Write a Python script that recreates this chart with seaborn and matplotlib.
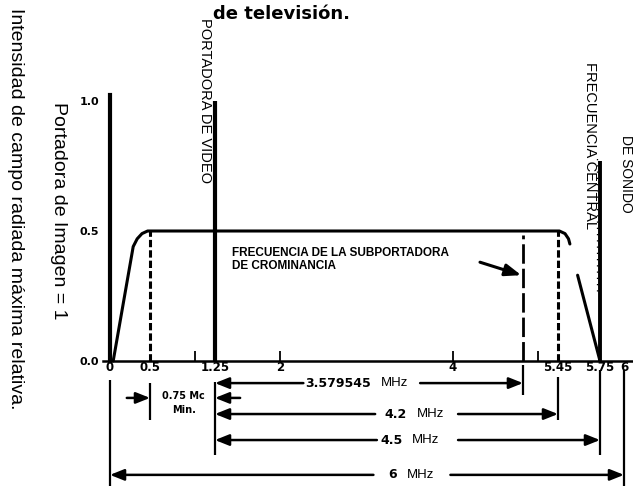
import numpy as np
import pandas as pd
import matplotlib
matplotlib.use("Agg")
import matplotlib.pyplot as plt
from matplotlib.ticker import FixedLocator, FixedFormatter
import seaborn as sns

# ---- channel data (MHz above the lower channel edge, relative field strength) ----
VIDEO_CARRIER = 1.25
CHROMA_OFFSET = 3.579545
CHROMA_CARRIER = VIDEO_CARRIER + CHROMA_OFFSET
VESTIGIAL_EDGE = 0.5
UPPER_EDGE = 5.45
SOUND_CARRIER = 5.75
CHANNEL_WIDTH = 6.0

VIDEO_LEVEL = 1.0
SOUND_LEVEL = 0.77
EDGE_LEVEL = 0.5
CHROMA_LEVEL = 0.485

# picture sideband envelope
SPECTRUM_MHZ = [0.04, 0.29, 0.34, 0.40, 0.47, 5.46, 5.50, 5.525, 5.535]
SPECTRUM_AMP = [0.0, 0.44, 0.47, 0.49, 0.50, 0.50, 0.49, 0.47, 0.45]
# lower skirt next to the sound carrier
SKIRT_MHZ = [5.59, 5.75]
SKIRT_AMP = [0.33, 0.0]

X_TICKS = [0, 0.5, 1.25, 2, 4, 5.45, 5.75, 6]
X_TICK_LABELS = ["0", "0.5", "1.25", "2", "4", "5.45", "5.75", "6"]
X_MINOR = [1, 2, 4, 5]
Y_TICKS = [0.0, 0.5, 1.0]
Y_TICK_LABELS = ["0.0", "0.5", "1.0"]

# dimension rows: start, span, row height, left line end, number left edge, right line start
DIM_ROWS = [
    (VIDEO_CARRIER, CHROMA_OFFSET, -0.085, 2.27, 2.29, 3.62),
    (VIDEO_CARRIER, UPPER_EDGE - VIDEO_CARRIER, -0.204, 3.10, 3.21, 4.06),
    (VIDEO_CARRIER, SOUND_CARRIER - VIDEO_CARRIER, -0.304, 3.12, 3.16, 4.06),
    (0.0, CHANNEL_WIDTH, -0.438, 3.08, 3.25, 3.97),
]

# ---- schematic (not to scale) frequency axis ----
AXIS_MHZ = np.array([0, 0.5, 1, 1.25, 2, 4, 4.83, 5, 5.45, 5.75, 6])
AXIS_POS = np.array([110, 150, 195, 215, 280, 453, 523, 538, 558, 600, 624], float)


def _piecewise(v, xp, fp):
    v = np.asarray(v, float)
    out = np.interp(v, xp, fp)
    s0 = (fp[1] - fp[0]) / (xp[1] - xp[0])
    s1 = (fp[-1] - fp[-2]) / (xp[-1] - xp[-2])
    out = np.where(v < xp[0], fp[0] + (v - xp[0]) * s0, out)
    out = np.where(v > xp[-1], fp[-1] + (v - xp[-1]) * s1, out)
    return out


def fwd(v):
    return _piecewise(v, AXIS_MHZ, AXIS_POS)


def inv(p):
    return _piecewise(p, AXIS_POS, AXIS_MHZ)


sns.set_theme(style="white")
plt.rcParams["font.family"] = ["Liberation Sans", "DejaVu Sans"]
plt.rcParams["text.color"] = "black"
plt.rcParams["axes.labelcolor"] = "black"
plt.rcParams["xtick.color"] = "black"
plt.rcParams["ytick.color"] = "black"

W, H = 633, 486
fig = plt.figure(figsize=(W / 100, H / 100), dpi=100)
ax = fig.add_axes([0, 0, 1, 1])
ax.set_xscale("function", functions=(fwd, inv))
ax.set_xlim(float(inv(0.0)), float(inv(W)))
ax.set_ylim(-0.4808, 1.3885)
ax.patch.set_alpha(0)

# envelope
df = pd.DataFrame({
    "mhz": SPECTRUM_MHZ + SKIRT_MHZ,
    "amp": SPECTRUM_AMP + SKIRT_AMP,
    "trace": ["picture"] * len(SPECTRUM_MHZ) + ["skirt"] * len(SKIRT_MHZ),
})
sns.lineplot(data=df, x="mhz", y="amp", units="trace", estimator=None,
             color="black", lw=2.2, sort=False, ax=ax)
ax.set_xlabel("")
ax.set_ylabel("")

# carriers
ax.vlines(VIDEO_CARRIER, 0, VIDEO_LEVEL, color="black", lw=3.0)
ax.vlines(SOUND_CARRIER, 0, SOUND_LEVEL, color="black", lw=2.8)
ax.vlines(SOUND_CARRIER - 0.02, 0.27, 0.79, color="black", lw=0.9,
          linestyles=(0, (1, 4)))
ax.vlines([VESTIGIAL_EDGE, UPPER_EDGE], 0, EDGE_LEVEL, color="black", lw=2.2,
          linestyles=(0, (2.4, 1.0)))
ax.vlines(CHROMA_CARRIER, 0, CHROMA_LEVEL, color="black", lw=2.0,
          linestyles=(0, (7, 1.8)))

# axes lines and ticks
for side in ("top", "right"):
    ax.spines[side].set_visible(False)
ax.spines["left"].set_position(("data", 0))
ax.spines["left"].set_bounds(0, 1.023)
ax.spines["left"].set_linewidth(3.0)
ax.spines["left"].set_color("black")
ax.spines["bottom"].set_position(("data", 0))
ax.spines["bottom"].set_bounds(-0.09, float(inv(W)))
ax.spines["bottom"].set_linewidth(1.8)
ax.spines["bottom"].set_color("black")

ax.xaxis.remove_overlapping_locs = False
ax.xaxis.set_major_locator(FixedLocator(X_TICKS))
ax.xaxis.set_major_formatter(FixedFormatter(X_TICK_LABELS))
ax.xaxis.set_minor_locator(FixedLocator(X_MINOR))
ax.xaxis.set_minor_formatter(FixedFormatter([""] * len(X_MINOR)))
ax.yaxis.set_major_locator(FixedLocator(Y_TICKS))
ax.yaxis.set_major_formatter(FixedFormatter(Y_TICK_LABELS))
ax.yaxis.set_minor_locator(FixedLocator([]))
ax.tick_params(axis="x", which="major", bottom=True, length=0, pad=0,
               labelsize=8.5, labelcolor="black")
ax.tick_params(axis="x", which="minor", bottom=True, direction="in",
               length=7, width=1.3, color="black")
ax.tick_params(axis="y", which="major", left=True, length=0, pad=8,
               labelsize=8, labelcolor="black")
for lbl in ax.get_xticklabels() + ax.get_yticklabels():
    lbl.set_fontfamily("DejaVu Sans")
    lbl.set_fontweight("bold")

# dimension extension lines under the axis
EXTENSIONS = [
    (0.0, -0.073, -0.49),
    (VESTIGIAL_EDGE, -0.085, -0.227),
    (VIDEO_CARRIER, -0.081, -0.362),
    (CHROMA_CARRIER, -0.015, -0.131),
    (UPPER_EDGE, -0.062, -0.227),
    (SOUND_CARRIER, -0.035, -0.362),
    (CHANNEL_WIDTH, -0.035, -0.49),
]
for fx, y0, y1 in EXTENSIONS:
    ax.vlines(fx, y1, y0, color="black", lw=1.6, clip_on=False)

arrow = dict(arrowstyle="-|>,head_length=0.7,head_width=0.28", color="black",
             lw=1.8, shrinkA=0, shrinkB=0)
num_font = dict(fontfamily="DejaVu Sans", fontweight="bold", fontsize=9)

for start, span, yrow, left_end, num_x, right_start in DIM_ROWS:
    end = start + span
    ax.annotate("", xy=(start, yrow), xytext=(left_end, yrow), arrowprops=arrow)
    ax.annotate("", xy=(end, yrow), xytext=(right_start, yrow), arrowprops=arrow)
    num = ax.text(num_x, yrow, f"{span:.7g}", ha="left", va="center", **num_font)
    ax.annotate("MHz", xy=(1, 0.5), xycoords=num, xytext=(7, 0),
                textcoords="offset points", ha="left", va="center", fontsize=9.5)

# minimum spacing between lower band edge and picture carrier
gap = VIDEO_CARRIER - VESTIGIAL_EDGE
y_gap = -0.142
ax.annotate("", xy=(VESTIGIAL_EDGE, y_gap), xytext=(0.21, y_gap), arrowprops=arrow)
ax.annotate("", xy=(VIDEO_CARRIER, y_gap), xytext=(1.54, y_gap), arrowprops=arrow)
mid = (VESTIGIAL_EDGE + VIDEO_CARRIER) / 2
ax.text(mid, -0.133, f"{gap:g} Mc", ha="center", va="center",
        fontfamily="DejaVu Sans", fontweight="bold", fontsize=7)
ax.text(mid, -0.188, "Min.", ha="center", va="center",
        fontfamily="DejaVu Sans", fontweight="bold", fontsize=7)

# chrominance subcarrier callout
ax.text(1.446, 0.44, "FRECUENCIA DE LA SUBPORTADORA\nDE CROMINANCIA",
        ha="left", va="top", fontsize=8.5, fontweight="bold", linespacing=1.15)
ax.annotate("", xy=(CHROMA_CARRIER - 0.02, 0.33), xytext=(4.32, 0.38),
            arrowprops=dict(arrowstyle="-|>,head_length=0.8,head_width=0.3",
                            color="black", lw=2.2, shrinkA=0, shrinkB=0))

# vertical captions
ax.text(1.125, 1.32, "PORTADORA DE VIDEO", rotation=-90, ha="center", va="top",
        fontsize=10.5)
ax.text(5.679, 1.15, "FRECUENCIA CENTRAL", rotation=-90, ha="center", va="top",
        fontsize=10.5)
ax.text(6.02, 0.87, "DE SONIDO", rotation=-90, ha="center", va="top",
        fontsize=10)

fig.text(15 / W, 1 - 8 / H, "Intensidad de campo radiada máxima relativa.",
         rotation=-90, ha="center", va="top", fontsize=14)
fig.text(58 / W, 1 - 102 / H, "Portadora de Imagen = 1",
         rotation=-90, ha="center", va="top", fontsize=14)
fig.text(213 / W, 1 - 19 / H, "de televisión.", ha="left", va="baseline",
         fontfamily="DejaVu Sans", fontweight="bold", fontsize=13)

fig.savefig("out.png", dpi=100)
